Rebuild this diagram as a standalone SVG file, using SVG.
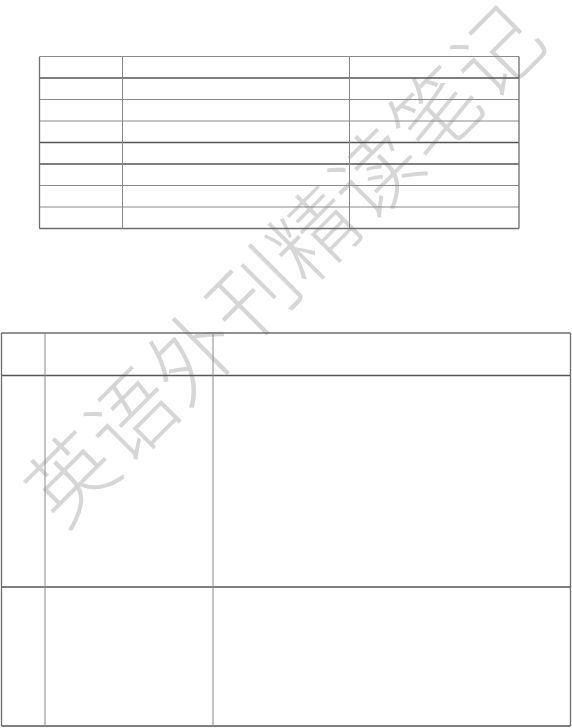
<svg xmlns="http://www.w3.org/2000/svg" width="572" height="728" viewBox="0 0 572 728">
<style>
.bg{fill:#ffffff}
.wm{font-family:"Noto Sans CJK SC","Noto Sans CJK TC",sans-serif;font-weight:300;font-size:86px;fill:#d6d6d6}
.thin{stroke:#8a8a8a;stroke-width:1;fill:none}
.thick{stroke:#555555;stroke-width:1.6;fill:none}
.edge{stroke:#6e6e6e;stroke-width:1.3;fill:none}
</style>
<rect class="bg" x="0" y="0" width="572" height="728"/>
<g id="watermark">
<text class="wm" transform="translate(285,266) rotate(-45)" x="0" y="30" text-anchor="middle">英语外刊精读笔记</text>
</g>
<g id="table1">
<line class="thin" x1="39.5" y1="56.5" x2="519" y2="56.5"/>
<line class="thick" x1="39.5" y1="78" x2="519" y2="78"/>
<line class="thin" x1="39.5" y1="99.5" x2="519" y2="99.5"/>
<line class="thin" x1="39.5" y1="121" x2="519" y2="121"/>
<line class="thick" x1="39.5" y1="142.5" x2="519" y2="142.5"/>
<line class="thick" x1="39.5" y1="164" x2="519" y2="164"/>
<line class="thin" x1="39.5" y1="185.5" x2="519" y2="185.5"/>
<line class="thin" x1="39.5" y1="207" x2="519" y2="207"/>
<line class="edge" x1="39.5" y1="228.5" x2="519" y2="228.5"/>
<line class="edge" x1="39.5" y1="56.5" x2="39.5" y2="228.5"/>
<line class="thin" x1="122.5" y1="56.5" x2="122.5" y2="228.5"/>
<line class="thin" x1="349.5" y1="56.5" x2="349.5" y2="228.5"/>
<line class="edge" x1="519" y1="56.5" x2="519" y2="228.5"/>
</g>
<g id="table2">
<line class="edge" x1="1.5" y1="333" x2="570.5" y2="333"/>
<line class="thick" x1="1.5" y1="375.5" x2="570.5" y2="375.5"/>
<line class="thick" x1="1.5" y1="587" x2="570.5" y2="587"/>
<line class="thick" x1="1.5" y1="726" x2="570.5" y2="726"/>
<line class="edge" x1="1.5" y1="333" x2="1.5" y2="726"/>
<line class="thin" x1="45" y1="333" x2="45" y2="726"/>
<line class="thin" x1="213" y1="333" x2="213" y2="726"/>
<line class="edge" x1="570.5" y1="333" x2="570.5" y2="726"/>
</g>
</svg>
